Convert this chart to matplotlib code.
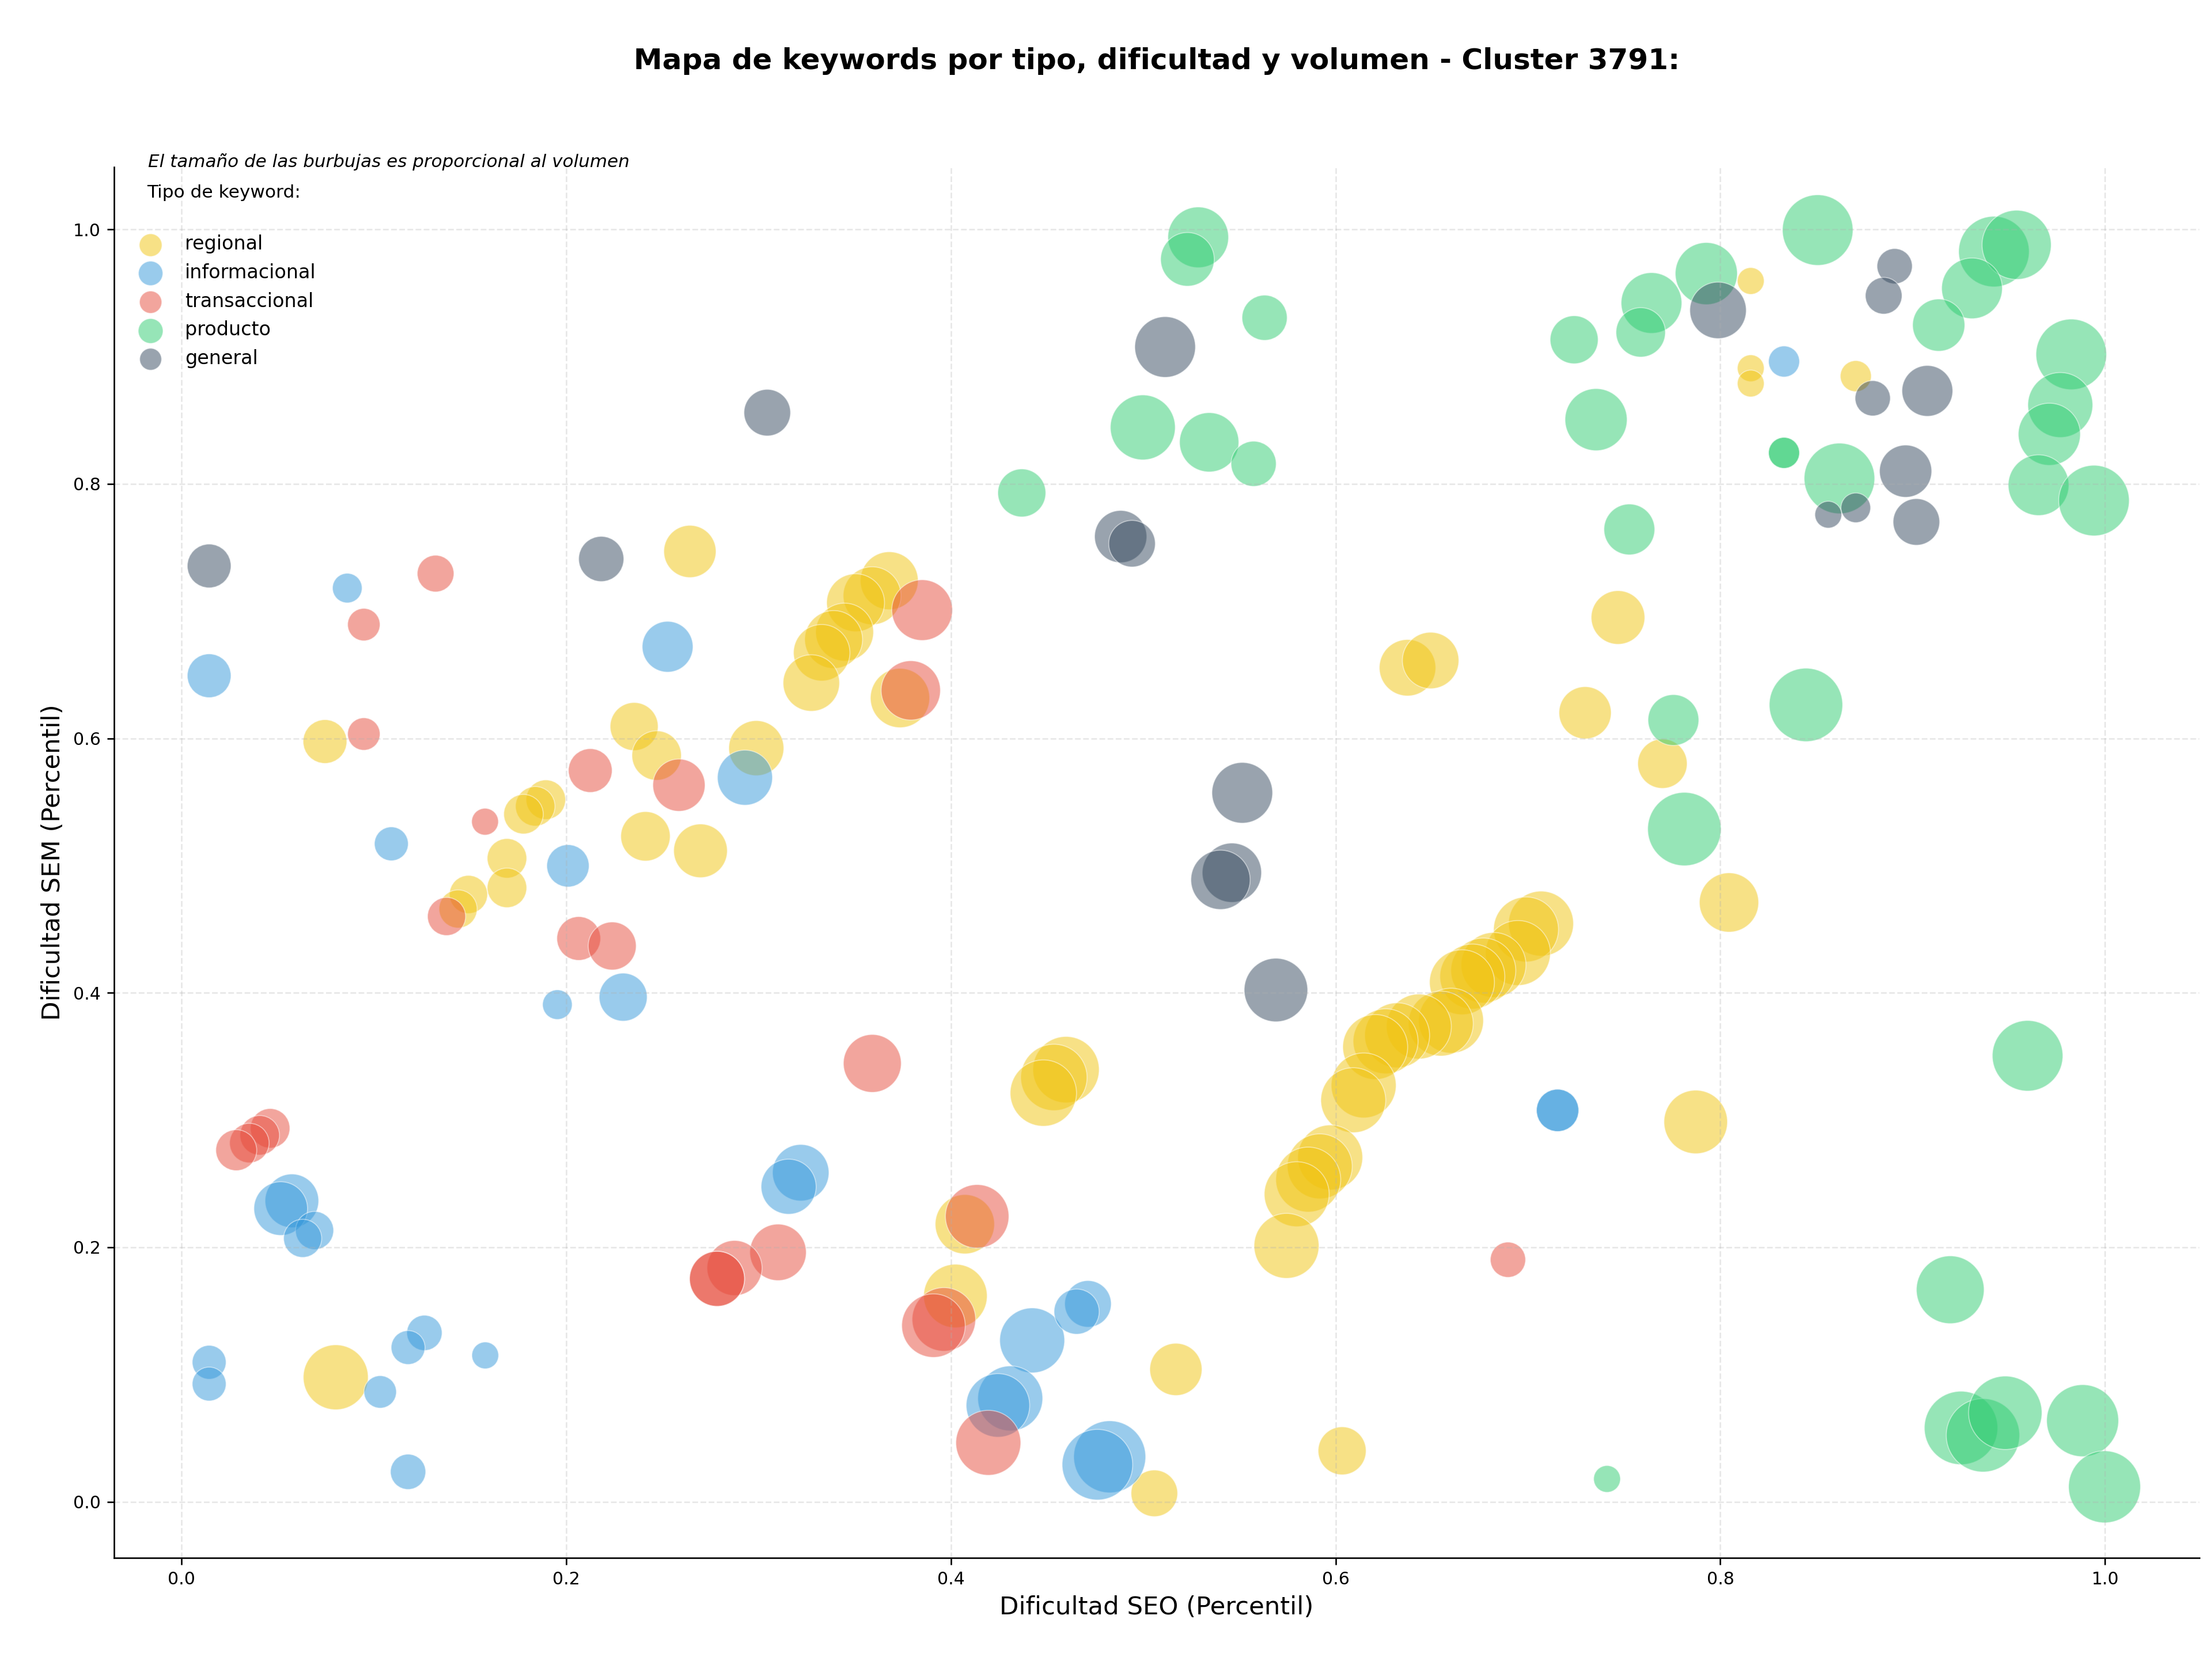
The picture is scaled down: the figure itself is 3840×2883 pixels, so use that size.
import numpy as np
import matplotlib
matplotlib.use("Agg")
import matplotlib.pyplot as plt

# Keyword data per type: SEO difficulty (x), SEM difficulty (y), relative volume
regional_x = [0.2644, 0.0747, 0.2354, 0.2471, 0.1895, 0.1840, 0.1779, 0.1693, 0.1693, 0.1493,
              0.1439, 0.2413, 0.2699, 0.2989, 0.3680, 0.3591, 0.3505, 0.3448, 0.3391, 0.3329,
              0.3275, 0.3736, 0.4599, 0.4536, 0.4481, 0.4073, 0.4024, 0.5170, 0.5058, 0.0803,
              0.6034, 0.6374, 0.6494, 0.7297, 0.7699, 0.8045, 0.7872, 0.7468, 0.8158, 0.8158,
              0.8158, 0.8704,
              0.7068, 0.6990, 0.6948, 0.6821, 0.6768, 0.6711, 0.6657, 0.6600, 0.6547, 0.6433,
              0.6320, 0.6260, 0.6206, 0.6146, 0.6092, 0.5972, 0.5918, 0.5858, 0.5798, 0.5745]
regional_y = [0.7469, 0.5975, 0.6093, 0.5865, 0.5518, 0.5466, 0.5404, 0.5057, 0.4825, 0.4773,
              0.4659, 0.5230, 0.5116, 0.5923, 0.7239, 0.7121, 0.7066, 0.6835, 0.6777, 0.6673,
              0.6435, 0.6317, 0.3396, 0.3335, 0.3212, 0.2181, 0.1617, 0.1040, 0.0066, 0.0978,
              0.0400, 0.6555, 0.6612, 0.6201, 0.5801, 0.4710, 0.2985, 0.6950, 0.9595, 0.8909,
              0.8789, 0.8847,
              0.4544, 0.4498, 0.4313, 0.4219, 0.4175, 0.4128, 0.4083, 0.3781, 0.3758, 0.3735,
              0.3666, 0.3619, 0.3574, 0.3272, 0.3156, 0.2706, 0.2636, 0.2532, 0.2417, 0.2011]
regional_vol = [1369, 961, 1156, 1225, 784, 784, 784, 784, 784, 729,
                729, 1225, 1444, 1521, 1681, 1681, 1681, 1681, 1681, 1600,
                1600, 1764, 2209, 2209, 2209, 1764, 2025, 1369, 1089, 2116,
                1156, 1600, 1600, 1369, 1225, 1764, 2025, 1444, 361, 361,
                361, 484,
                2116, 2116, 2116, 2116, 2116, 2116, 2116, 2116, 2116, 2116,
                2116, 2116, 2116, 2116, 2116, 2116, 2116, 2116, 2116, 2116]

informacional_x = [0.0863, 0.0145, 0.2528, 0.2930, 0.1092, 0.2010, 0.1955, 0.2297, 0.3220, 0.3157,
                   0.4423, 0.4713, 0.4654, 0.4309, 0.4245, 0.4826, 0.4762, 0.0575, 0.0517, 0.0693,
                   0.0631, 0.0145, 0.0145, 0.1034, 0.1264, 0.1179, 0.1580, 0.1179, 0.7154, 0.7154,
                   0.8331]
informacional_y = [0.7181, 0.6492, 0.6720, 0.5691, 0.5171, 0.4998, 0.3907, 0.3966, 0.2586, 0.2476,
                   0.1268, 0.1555, 0.1494, 0.0812, 0.0757, 0.0353, 0.0291, 0.2365, 0.2304, 0.2132,
                   0.2070, 0.1096, 0.0925, 0.0863, 0.1327, 0.1212, 0.1150, 0.0235, 0.3076, 0.3076,
                   0.8962]
informacional_vol = [441, 961, 1296, 1521, 576, 900, 441, 1156, 1600, 1521,
                     2116, 1089, 1024, 2116, 2025, 2601, 2500, 1444, 1444, 729,
                     729, 576, 576, 529, 625, 576, 361, 625, 900, 900,
                     484]

transaccional_x = [0.1322, 0.0949, 0.0949, 0.2587, 0.2126, 0.1579, 0.1379, 0.2066, 0.2240, 0.3851,
                   0.3792, 0.3592, 0.3102, 0.2876, 0.2785, 0.2785, 0.4137, 0.3964, 0.3910, 0.4195,
                   0.0462, 0.0408, 0.0354, 0.0286, 0.6896]
transaccional_y = [0.7295, 0.6894, 0.6034, 0.5632, 0.5747, 0.5345, 0.4600, 0.4427, 0.4368, 0.7008,
                   0.6377, 0.3445, 0.1960, 0.1837, 0.1752, 0.1752, 0.2243, 0.1433, 0.1384, 0.0463,
                   0.2935, 0.2880, 0.2819, 0.2763, 0.1902]
transaccional_vol = [676, 529, 529, 1369, 961, 361, 729, 961, 1156, 1849,
                     1764, 1681, 1600, 1521, 1521, 1521, 2025, 2025, 2025, 2116,
                     784, 784, 784, 841, 625]

producto_x = [0.5286, 0.5230, 0.5631, 0.4998, 0.5343, 0.5574, 0.4369,
              0.8506, 0.9422, 0.9540, 0.9308, 0.9135, 0.7927, 0.7642, 0.7586, 0.7240, 0.7354,
              0.9824, 0.9767, 0.9710, 0.9654, 0.9942, 0.8619, 0.8331, 0.8331, 0.7527,
              0.7756, 0.8445, 0.7813, 0.9597, 0.9195, 0.9251, 0.9365, 0.9481, 0.9883, 0.9997,
              0.7411]
producto_y = [0.9938, 0.9765, 0.9306, 0.8444, 0.8327, 0.8158, 0.7929,
              0.9995, 0.9826, 0.9879, 0.9537, 0.9248, 0.9653, 0.9422, 0.9191, 0.9133, 0.8505,
              0.9018, 0.8620, 0.8390, 0.7990, 0.7869, 0.8043, 0.8244, 0.8244, 0.7642,
              0.6144, 0.6263, 0.5287, 0.3505, 0.1666, 0.0580, 0.0522, 0.0699, 0.0637, 0.0117,
              0.0179]
producto_vol = [1849, 1444, 1024, 2116, 1764, 1024, 1156,
                2500, 2500, 2401, 1849, 1369, 1936, 1849, 1225, 1156, 1936,
                2500, 2116, 1936, 1849, 2500, 2500, 484, 484, 1296,
                1296, 2704, 2704, 2500, 2304, 2704, 2704, 2704, 2601, 2601,
                361]

general_x = [0.3046, 0.0145, 0.2183, 0.5114, 0.4883, 0.4942, 0.5515, 0.5461, 0.5402, 0.5690,
             0.7988, 0.8906, 0.8849, 0.8792, 0.9076, 0.8963, 0.9019, 0.8704, 0.8561]
general_y = [0.8560, 0.7355, 0.7410, 0.9076, 0.7586, 0.7530, 0.5572, 0.4944, 0.4888, 0.4022,
             0.9364, 0.9711, 0.9479, 0.8673, 0.8731, 0.8100, 0.7701, 0.7812, 0.7758]
general_vol = [1089, 961, 1024, 1849, 1369, 1089, 1849, 1764, 1764, 2025,
               1600, 625, 676, 625, 1296, 1369, 1089, 441, 361]

tipos = ['regional', 'informacional', 'transaccional', 'producto', 'general']
colores = ['#F1C40F', '#3498DB', '#E74C3C', '#2ECC71', '#34495E']
series = [
    (regional_x, regional_y, regional_vol),
    (informacional_x, informacional_y, informacional_vol),
    (transaccional_x, transaccional_y, transaccional_vol),
    (producto_x, producto_y, producto_vol),
    (general_x, general_y, general_vol),
]

# bubble area scale (points^2 per volume unit)
escala = 0.54

fig = plt.figure(figsize=(16, 12.0125), dpi=240)
ax = fig.add_axes([0.0515, 0.0622, 0.9428, 0.8372])

for tipo, color, (xs, ys, vols) in zip(tipos, colores, series):
    ax.scatter(xs, ys, s=np.array(vols) * escala, c=color, alpha=0.5,
               edgecolors='white', linewidth=0.5, label=tipo)

ax.set_xlim(-0.035, 1.049)
ax.set_ylim(-0.044, 1.049)

ax.set_title("Mapa de keywords por tipo, dificultad y volumen - Cluster 3791:",
             fontsize=15, fontweight='bold', pad=51)
ax.set_xlabel("Dificultad SEO (Percentil)", fontsize=13)
ax.set_ylabel("Dificultad SEM (Percentil)", fontsize=13)
ax.tick_params(labelsize=9)

ax.grid(True, linestyle='--', alpha=0.3)
ax.spines['top'].set_visible(False)
ax.spines['right'].set_visible(False)

ax.text(0.0164, 1.0, "El tamaño de las burbujas es proporcional al volumen",
        transform=ax.transAxes, fontsize=9.3, style='italic', va='baseline')

leg = ax.legend(title="Tipo de keyword:\n", loc='upper left', frameon=False,
                markerscale=0.45, fontsize=10)
leg.get_title().set_fontsize(9.4)
leg.get_title().set_linespacing(1.55)

fig.savefig("out.png", dpi=240)
